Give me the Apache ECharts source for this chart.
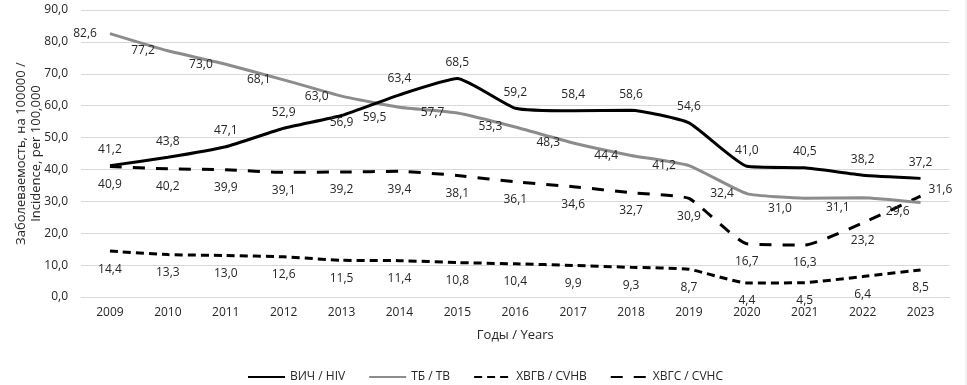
<!DOCTYPE html>
<html>
<head>
<meta charset="utf-8">
<script src="https://cdn.jsdelivr.net/npm/echarts@6/dist/echarts.min.js"></script>
<style>
html,body{margin:0;padding:0;background:#fff;}
#chart{width:967px;height:385px;}
</style>
</head>
<body>
<div id="chart"></div>
<script>
const years = ['2009','2010','2011','2012','2013','2014','2015','2016','2017','2018','2019','2020','2021','2022','2023'];
const hiv  = [41.2, 43.8, 47.1, 52.9, 56.9, 63.4, 68.5, 59.2, 58.4, 58.6, 54.6, 41.0, 40.5, 38.2, 37.2];
const tb   = [82.6, 77.2, 73.0, 68.1, 63.0, 59.5, 57.7, 53.3, 48.3, 44.4, 41.2, 32.4, 31.0, 31.1, 29.6];
const cvhb = [14.4, 13.3, 13.0, 12.6, 11.5, 11.4, 10.8, 10.4, 9.9, 9.3, 8.7, 4.4, 4.5, 6.4, 8.5];
const cvhc = [40.9, 40.2, 39.9, 39.1, 39.2, 39.4, 38.1, 36.1, 34.6, 32.7, 30.9, 16.7, 16.3, 23.2, 31.6];
const seriesNames = ['ВИЧ / HIV', 'ТБ / TB', 'ХВГВ / CVHB', 'ХВГС / CVHC'];
const yAxisName = 'Заболеваемость, на 100000 /\nIncidence, per 100,000';
const xAxisName = 'Годы / Years';

const FONT = 'Open Sans';
const fmt = v => Number(v).toFixed(1).replace('.', ',');

function withLabels(values, overrides) {
  return values.map((v, i) => overrides[i] ? { value: v, label: overrides[i] } : v);
}

const chart = echarts.init(document.getElementById('chart'), null, { renderer: 'canvas' });

const labelBase = { show: true, fontFamily: FONT, fontSize: 12, color: '#262626', formatter: p => fmt(p.value) };
const SMOOTH = 0.15;
const markOpts = { symbol: 'circle', symbolSize: 0.01, showSymbol: true };

chart.setOption({
  animation: false,
  backgroundColor: '#fff',
  grid: { left: 81, right: 17.5, top: 10, bottom: 88, containLabel: false },
  legend: {
    left: 242, top: 366,
    itemWidth: 37, itemHeight: 10, itemGap: 23,
    itemStyle: { opacity: 0 },
    textStyle: { fontFamily: FONT, fontSize: 12, color: '#262626' },
    data: seriesNames
  },
  xAxis: {
    type: 'category',
    data: years,
    boundaryGap: true,
    name: xAxisName,
    nameLocation: 'middle',
    nameGap: 32,
    nameMoveOverlap: false,
    nameTextStyle: { fontFamily: FONT, fontSize: 13, color: '#262626' },
    axisLine: { show: true, lineStyle: { color: '#d9d9d9', width: 1 } },
    axisTick: { show: false },
    axisLabel: { fontFamily: FONT, fontSize: 12, color: '#262626', margin: 10 }
  },
  yAxis: {
    type: 'value',
    min: 0, max: 90, interval: 10,
    name: yAxisName,
    nameLocation: 'middle',
    nameRotate: 90,
    nameGap: 37,
    nameMoveOverlap: false,
    nameTextStyle: { fontFamily: FONT, fontSize: 13, color: '#262626', lineHeight: 15 },
    axisLine: { show: false },
    axisTick: { show: false },
    splitLine: { lineStyle: { color: '#d9d9d9', width: 1 } },
    axisLabel: { fontFamily: FONT, fontSize: 12, color: '#262626', margin: 13, formatter: v => fmt(v) }
  },
  graphic: [
    { type: 'line', shape: { x1: 966, y1: 0, x2: 966, y2: 385 }, style: { stroke: '#e3e3e3', lineWidth: 1 } }
  ],
  series: [
    Object.assign({
      name: seriesNames[0], type: 'line', smooth: SMOOTH,
      lineStyle: { color: '#000', width: 3 }, itemStyle: { color: '#000' },
      label: Object.assign({}, labelBase, { position: 'top', distance: 10 }),
      data: withLabels(hiv, { 4: { position: 'bottom', distance: 1 } }),
      z: 5
    }, markOpts),
    Object.assign({
      name: seriesNames[1], type: 'line', smooth: SMOOTH,
      lineStyle: { color: '#8c8c8c', width: 3 }, itemStyle: { color: '#8c8c8c' },
      label: Object.assign({}, labelBase, { position: 'left', distance: 13 }),
      data: withLabels(tb, {
        5: { offset: [0, 10] },
        12: { offset: [0, 10] },
        13: { offset: [0, 10] },
        14: { offset: [0, 9], distance: 11 }
      }),
      z: 4
    }, markOpts),
    Object.assign({
      name: seriesNames[2], type: 'line', smooth: SMOOTH,
      lineStyle: { color: '#000', width: 3, type: [8, 5] }, itemStyle: { color: '#000' },
      label: Object.assign({}, labelBase, { position: 'bottom', distance: 12 }),
      data: cvhb,
      z: 3
    }, markOpts),
    Object.assign({
      name: seriesNames[3], type: 'line', smooth: SMOOTH,
      lineStyle: { color: '#000', width: 3, type: [12, 11] }, itemStyle: { color: '#000' },
      label: Object.assign({}, labelBase, { position: 'bottom', distance: 12 }),
      data: withLabels(cvhc, { 14: { position: 'right', distance: 8, offset: [0, -7] } }),
      z: 3
    }, markOpts)
  ]
});
</script>
</body>
</html>
